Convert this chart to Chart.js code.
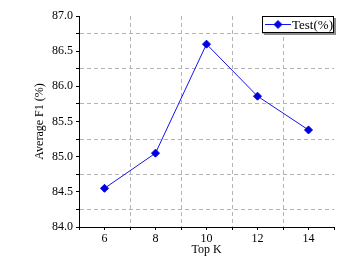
<!DOCTYPE html>
<html>
<head>
<meta charset="utf-8">
<script src="https://cdn.jsdelivr.net/npm/chart.js@4.4.0/dist/chart.umd.min.js"></script>
<style>
html, body { margin: 0; padding: 0; background: #fff; }
</style>
</head>
<body>
<canvas id="myChart" width="357" height="270"></canvas>
<script>
const topK = [6, 8, 10, 12, 14];
const testF1 = [84.55, 85.05, 86.6, 85.86, 85.38];
const xLabels = [6, 8, 10, 12, 14];
const yLabels = [84.0, 84.5, 85.0, 85.5, 86.0, 86.5, 87.0];
const seriesLabel = 'Test(%)';

const lineColor = '#1414f0';
const gridColor = '#b4b4b4';
const fontFamily = '"Liberation Serif", "Times New Roman", serif';

// boxed legend with a little drop shadow, top right of the plot
const boxLegend = {
    id: 'boxLegend',
    afterDraw(chart) {
        const ctx = chart.ctx;
        const area = chart.chartArea;
        const ds = chart.data.datasets[0];
        const w = 72, h = 17;
        const x = Math.round(area.right - w), y = Math.round(area.top);
        const my = y + h / 2;

        ctx.save();
        ctx.fillStyle = '#8c8c8c';
        ctx.fillRect(x + 2, y + 2, w, h);
        ctx.fillStyle = '#fff';
        ctx.fillRect(x, y, w, h);
        ctx.strokeStyle = '#000';
        ctx.lineWidth = 1;
        ctx.strokeRect(x + 0.5, y + 0.5, w - 1, h - 1);

        ctx.strokeStyle = ds.borderColor;
        ctx.beginPath();
        ctx.moveTo(x + 3, my);
        ctx.lineTo(x + 29, my);
        ctx.stroke();

        const cx = x + 16, r = 4;
        ctx.fillStyle = ds.pointBackgroundColor;
        ctx.beginPath();
        ctx.moveTo(cx, my - r);
        ctx.lineTo(cx + r, my);
        ctx.lineTo(cx, my + r);
        ctx.lineTo(cx - r, my);
        ctx.closePath();
        ctx.fill();
        ctx.stroke();

        ctx.fillStyle = '#000';
        ctx.font = '13px ' + fontFamily;
        ctx.textBaseline = 'middle';
        ctx.textAlign = 'left';
        ctx.fillText(ds.label, x + 30, my + 1);
        ctx.restore();
    }
};

const ctx = document.getElementById('myChart').getContext('2d');

new Chart(ctx, {
    type: 'line',
    data: {
        datasets: [{
            label: seriesLabel,
            data: topK.map((k, i) => ({ x: k, y: testF1[i] })),
            borderColor: lineColor,
            backgroundColor: lineColor,
            pointBackgroundColor: '#0000dc',
            pointBorderColor: '#0000dc',
            pointStyle: 'rectRot',
            pointRadius: 4,
            pointBorderWidth: 1,
            borderWidth: 1,
            tension: 0,
            fill: false
        }]
    },
    options: {
        responsive: false,
        animation: false,
        layout: {
            padding: { left: 33, top: 16, right: 23, bottom: 13 }
        },
        plugins: {
            legend: { display: false },
            tooltip: { enabled: false }
        },
        scales: {
            x: {
                type: 'linear',
                min: 5,
                max: 15,
                afterFit(scale) { scale.height = 30; },
                ticks: {
                    stepSize: 1,
                    autoSkip: false,
                    maxRotation: 0,
                    padding: 2,
                    color: '#000',
                    font: { family: fontFamily, size: 12 },
                    callback: function(value) {
                        return xLabels.includes(value) ? String(value) : '';
                    }
                },
                grid: {
                    color: function(c) {
                        const v = c.tick ? c.tick.value : null;
                        return (v !== null && v % 2 === 1 && v > 5 && v < 15) ? gridColor : 'rgba(0,0,0,0)';
                    },
                    tickColor: '#000',
                    tickLength: 3,
                    lineWidth: 1
                },
                border: { display: true, color: '#000', width: 1, dash: [4, 3] },
                title: {
                    display: true,
                    text: 'Top K',
                    color: '#000',
                    padding: 0,
                    font: { family: fontFamily, size: 12 }
                }
            },
            y: {
                type: 'linear',
                min: 84,
                max: 87,
                afterFit(scale) { scale.width = 46; },
                ticks: {
                    stepSize: 0.25,
                    maxTicksLimit: 20,
                    autoSkip: false,
                    padding: 3,
                    color: '#000',
                    font: { family: fontFamily, size: 12 },
                    callback: function(value) {
                        const hit = yLabels.find(l => Math.abs(l - value) < 1e-6);
                        return hit !== undefined ? hit.toFixed(1) : '';
                    }
                },
                grid: {
                    color: function(c) {
                        const v = c.tick ? c.tick.value : null;
                        if (v === null) return 'rgba(0,0,0,0)';
                        const q = Math.round(v * 4);
                        return (q % 2 === 1) ? gridColor : 'rgba(0,0,0,0)';
                    },
                    tickColor: '#000',
                    tickLength: 3,
                    lineWidth: 1
                },
                border: { display: true, color: '#000', width: 1, dash: [4, 3] },
                title: {
                    display: true,
                    text: 'Average F1 (%)',
                    color: '#000',
                    padding: 0,
                    font: { family: fontFamily, size: 12 }
                }
            }
        }
    },
    plugins: [boxLegend]
});
</script>
</body>
</html>
